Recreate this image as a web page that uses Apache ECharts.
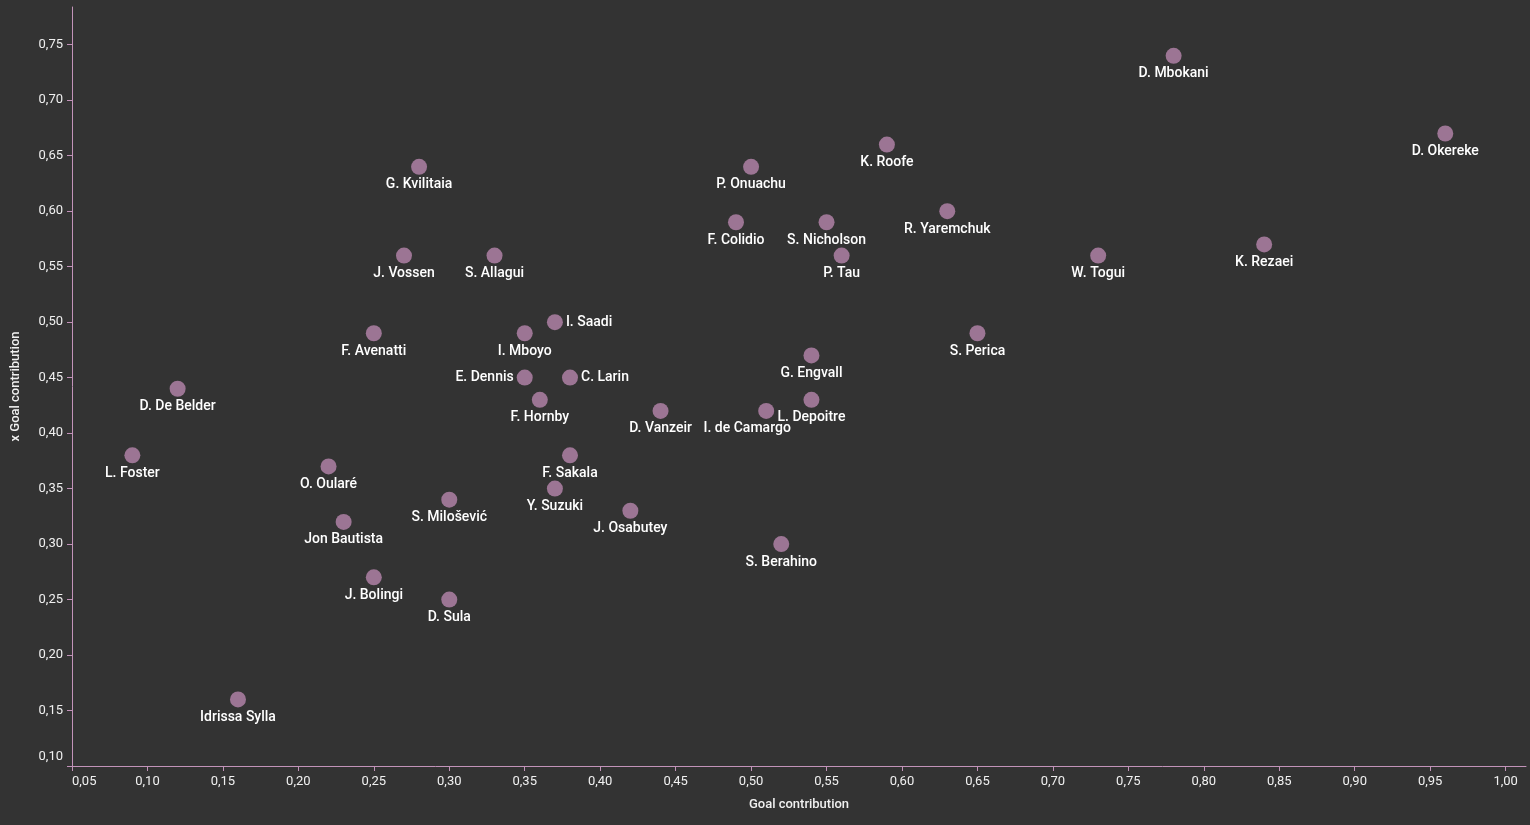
<!DOCTYPE html>
<html>
<head>
<meta charset="utf-8">
<script src="https://cdn.jsdelivr.net/npm/echarts@6/dist/echarts.min.js"></script>
<style>
html,body{margin:0;padding:0;background:#333333;}
#chart{width:1530px;height:825px;}
</style>
</head>
<body>
<div id="chart"></div>
<script>
const players = ["D. Mbokani","D. Okereke","K. Roofe","P. Onuachu","G. Kvilitaia","R. Yaremchuk","F. Colidio","S. Nicholson","K. Rezaei","J. Vossen","S. Allagui","P. Tau","W. Togui","I. Saadi","F. Avenatti","I. Mboyo","S. Perica","G. Engvall","D. De Belder","E. Dennis","C. Larin","F. Hornby","L. Depoitre","D. Vanzeir","I. de Camargo","L. Foster","F. Sakala","O. Oularé","Y. Suzuki","S. Milošević","J. Osabutey","Jon Bautista","S. Berahino","J. Bolingi","D. Sula","Idrissa Sylla"];
const goalContribution = [0.78,0.96,0.59,0.50,0.28,0.63,0.49,0.55,0.84,0.27,0.33,0.56,0.73,0.37,0.25,0.35,0.65,0.54,0.12,0.35,0.38,0.36,0.54,0.44,0.51,0.09,0.38,0.22,0.37,0.30,0.42,0.23,0.52,0.25,0.30,0.16];
const xGoalContribution = [0.74,0.67,0.66,0.64,0.64,0.60,0.59,0.59,0.57,0.56,0.56,0.56,0.56,0.50,0.49,0.49,0.49,0.47,0.44,0.45,0.45,0.43,0.43,0.42,0.42,0.38,0.38,0.37,0.35,0.34,0.33,0.32,0.30,0.27,0.25,0.16];
const labelSide = {"I. Saadi":"right","E. Dennis":"left","C. Larin":"right"};
const labelShift = {"I. de Camargo":[-19,0]};
const xTicks = [0.05,0.10,0.15,0.20,0.25,0.30,0.35,0.40,0.45,0.50,0.55,0.60,0.65,0.70,0.75,0.80,0.85,0.90,0.95,1.00];
const yTicks = [0.10,0.15,0.20,0.25,0.30,0.35,0.40,0.45,0.50,0.55,0.60,0.65,0.70,0.75];

const fmt = v => Number(v).toFixed(2).replace('.', ',');
const axisColor = '#c293b9';
const font = 'Roboto';

const data = players.map((n, i) => {
  const side = labelSide[n] || 'bottom';
  const item = {name: n, value: [goalContribution[i], xGoalContribution[i]],
    label: {position: side, distance: side === 'bottom' ? 3 : 3}};
  if (labelShift[n]) item.label.offset = labelShift[n];
  return item;
});

const chart = echarts.init(document.getElementById('chart'));
chart.setOption({
  backgroundColor: '#333333',
  animation: false,
  grid: {left: 72, right: 4, top: 7, bottom: 59, containLabel: false},
  xAxis: {
    type: 'value', min: 0.05, max: 1.0135,
    name: 'Goal contribution', nameLocation: 'middle', nameGap: 32,
    nameTextStyle: {color: '#f0f0f0', fontFamily: font, fontSize: 13, fontWeight: 500},
    axisLine: {show: true, lineStyle: {color: axisColor, width: 1}},
    axisTick: {show: true, length: 5, lineStyle: {color: axisColor}, customValues: xTicks},
    axisLabel: {color: '#f0f0f0', fontFamily: font, fontSize: 13, margin: 9, customValues: xTicks,
      formatter: fmt, alignMinLabel: 'left'},
    splitLine: {show: false}
  },
  yAxis: {
    type: 'value', min: 0.10, max: 0.784,
    name: 'x Goal contribution', nameLocation: 'middle', nameGap: 50, nameRotate: 90,
    nameTextStyle: {color: '#f0f0f0', fontFamily: font, fontSize: 13, fontWeight: 500},
    axisLine: {show: true, lineStyle: {color: axisColor, width: 1}},
    axisTick: {show: true, length: 5, lineStyle: {color: axisColor}, customValues: yTicks},
    axisLabel: {color: '#f0f0f0', fontFamily: font, fontSize: 13, margin: 9, customValues: yTicks,
      formatter: v => (Math.abs(v - yTicks[0]) < 1e-9 ? '{lo|' + fmt(v) + '}' : fmt(v)),
      rich: {lo: {color: '#f0f0f0', fontFamily: font, fontSize: 13, padding: [0, 0, 18, 0]}}},
    splitLine: {show: false}
  },
  series: [{
    type: 'scatter',
    symbolSize: 16,
    itemStyle: {color: '#9c7594', opacity: 1},
    label: {show: true, formatter: p => p.name, color: '#ffffff', fontFamily: font,
      fontSize: 14, fontWeight: 500},
    data: data
  }]
});
</script>
</body>
</html>
